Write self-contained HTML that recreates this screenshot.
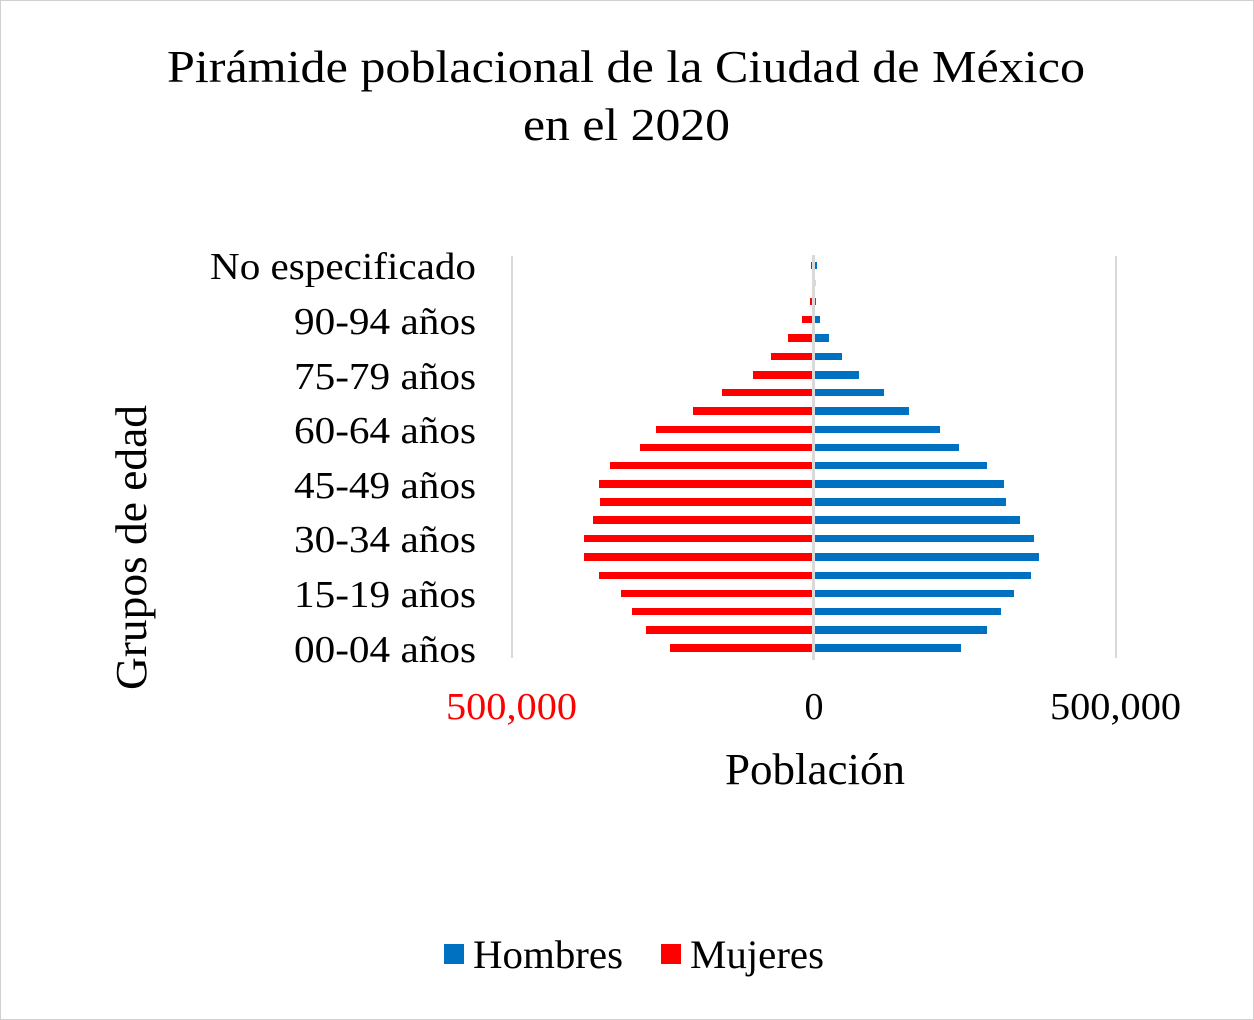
<!DOCTYPE html>
<html><head><meta charset="utf-8"><style>
html,body{margin:0;padding:0;background:#fff}
svg{display:block}
text{font-family:"Liberation Serif",serif;fill:#000}
</style></head><body>
<svg width="1254" height="1020" viewBox="0 0 1254 1020" xmlns="http://www.w3.org/2000/svg">
<rect x="0.5" y="0.5" width="1253" height="1019" fill="#fff" stroke="#d0d0d0"/>
<text x="167" y="82" font-size="46" textLength="918" lengthAdjust="spacingAndGlyphs">Pirámide poblacional de la Ciudad de México</text>
<text x="523" y="140" font-size="46" textLength="207" lengthAdjust="spacingAndGlyphs">en el 2020</text>
<line x1="512" y1="256" x2="512" y2="658" stroke="#d9d9d9" stroke-width="2"/>
<line x1="1116" y1="256" x2="1116" y2="658" stroke="#d9d9d9" stroke-width="2"/>
<g fill="#ff0000">
<rect x="811" y="262" width="2" height="7"/>
<rect x="810" y="298" width="3" height="7"/>
<rect x="802" y="316" width="11" height="7"/>
<rect x="788" y="334" width="25" height="8"/>
<rect x="771" y="353" width="42" height="7"/>
<rect x="753" y="371" width="60" height="8"/>
<rect x="722" y="389" width="91" height="7"/>
<rect x="693" y="407" width="120" height="8"/>
<rect x="656" y="426" width="157" height="7"/>
<rect x="640" y="444" width="173" height="7"/>
<rect x="610" y="462" width="203" height="7"/>
<rect x="599" y="480" width="214" height="8"/>
<rect x="600" y="498" width="213" height="8"/>
<rect x="593" y="516" width="220" height="8"/>
<rect x="584" y="535" width="229" height="7"/>
<rect x="584" y="553" width="229" height="8"/>
<rect x="599" y="572" width="214" height="7"/>
<rect x="621" y="590" width="192" height="7"/>
<rect x="632" y="608" width="181" height="7"/>
<rect x="646" y="626" width="167" height="8"/>
<rect x="670" y="644" width="143" height="8"/>
</g>
<g fill="#0070c0">
<rect x="815" y="262" width="2" height="7"/>
<rect x="815" y="280" width="1" height="6" fill="#c8dcf0"/>
<rect x="815" y="298" width="1" height="7"/>
<rect x="815" y="316" width="5" height="7"/>
<rect x="815" y="334" width="14" height="8"/>
<rect x="815" y="353" width="27" height="7"/>
<rect x="815" y="371" width="44" height="8"/>
<rect x="815" y="389" width="69" height="7"/>
<rect x="815" y="407" width="94" height="8"/>
<rect x="815" y="426" width="125" height="7"/>
<rect x="815" y="444" width="144" height="7"/>
<rect x="815" y="462" width="172" height="7"/>
<rect x="815" y="480" width="189" height="8"/>
<rect x="815" y="498" width="191" height="8"/>
<rect x="815" y="516" width="205" height="8"/>
<rect x="815" y="535" width="219" height="7"/>
<rect x="815" y="553" width="224" height="8"/>
<rect x="815" y="572" width="216" height="7"/>
<rect x="815" y="590" width="199" height="7"/>
<rect x="815" y="608" width="186" height="7"/>
<rect x="815" y="626" width="172" height="8"/>
<rect x="815" y="644" width="146" height="8"/>
</g>
<line x1="813.5" y1="255" x2="813.5" y2="660" stroke="#d9d9d9" stroke-width="3"/>
<g font-size="38">
<text x="210" y="279" textLength="266" lengthAdjust="spacingAndGlyphs">No especificado</text>
<text x="294" y="334" textLength="182" lengthAdjust="spacingAndGlyphs">90-94 años</text>
<text x="294" y="389" textLength="182" lengthAdjust="spacingAndGlyphs">75-79 años</text>
<text x="294" y="443" textLength="182" lengthAdjust="spacingAndGlyphs">60-64 años</text>
<text x="294" y="498" textLength="182" lengthAdjust="spacingAndGlyphs">45-49 años</text>
<text x="294" y="552" textLength="182" lengthAdjust="spacingAndGlyphs">30-34 años</text>
<text x="294" y="607" textLength="182" lengthAdjust="spacingAndGlyphs">15-19 años</text>
<text x="294" y="662" textLength="182" lengthAdjust="spacingAndGlyphs">00-04 años</text>
</g>
<g font-size="38">
<text x="446" y="719" style="fill:#ff0000" textLength="131" lengthAdjust="spacingAndGlyphs">500,000</text>
<text x="814" y="719" text-anchor="middle">0</text>
<text x="1050" y="719" textLength="131" lengthAdjust="spacingAndGlyphs">500,000</text>
<text x="725" y="784" font-size="44" textLength="180" lengthAdjust="spacingAndGlyphs">Población</text>
<text transform="translate(146,690) rotate(-90)" font-size="44" textLength="285" lengthAdjust="spacingAndGlyphs">Grupos de edad</text>
</g>
<rect x="444" y="944" width="20" height="20" fill="#0070c0"/>
<text x="473" y="968" font-size="40" textLength="150" lengthAdjust="spacingAndGlyphs">Hombres</text>
<rect x="661" y="944" width="20" height="20" fill="#ff0000"/>
<text x="690" y="968" font-size="40" textLength="134" lengthAdjust="spacingAndGlyphs">Mujeres</text>
</svg>
</body></html>
